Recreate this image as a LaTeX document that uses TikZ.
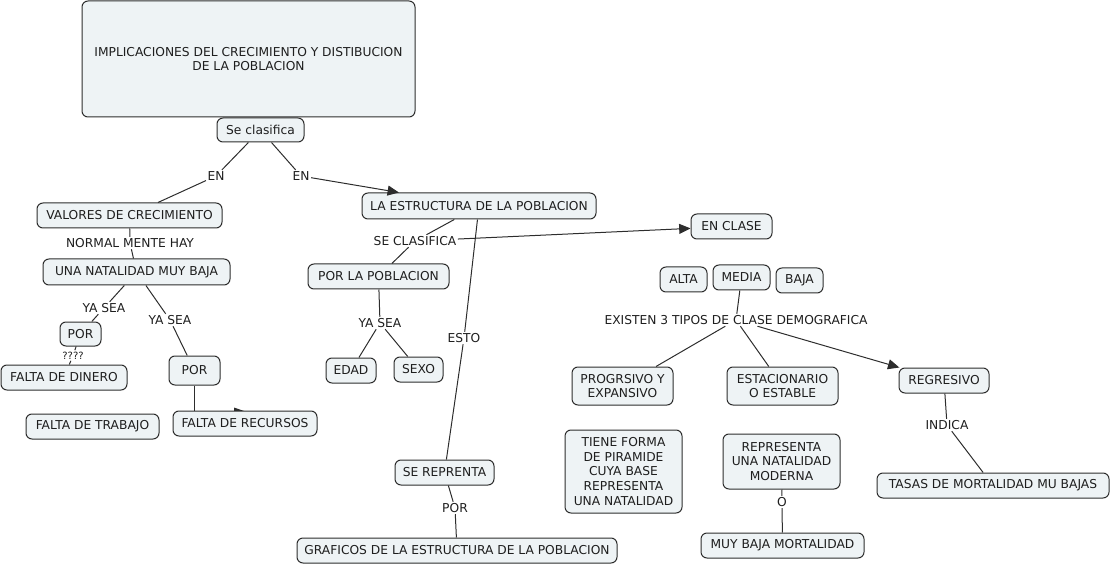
\documentclass[tikz,border=0pt]{standalone}
\usepackage{fontspec}
\setmainfont{DejaVu Sans}
\usetikzlibrary{arrows.meta}
\definecolor{nfill}{RGB}{238,243,245}
\definecolor{nline}{RGB}{45,45,45}
\definecolor{ntext}{RGB}{30,30,30}
\begin{document}
\begin{tikzpicture}[x=0.75pt,y=-0.75pt,
  box/.style={draw=nline, fill=nfill, rounded corners=4.5pt, line width=0.75pt,
    inner sep=0pt, align=center, text=ntext, font=\fontsize{9.2}{10.9}\selectfont},
  sz/.style 2 args={minimum width=#1*0.75pt, minimum height=#2*0.75pt},
  lbl/.style={inner sep=1pt, text=ntext, font=\fontsize{9.2}{10.9}\selectfont},
  con/.style={draw=nline, line width=0.75pt},
  arr/.style={con, -{Triangle[length=8.5pt,width=7.5pt]}}]
\useasboundingbox (0,0) rectangle (1112,566);

% partially hidden arrow head above FALTA DE RECURSOS
\fill[nline] (234,407.5) -- (245.5,411.5) -- (234,415) -- cycle;

% concepts
\node[box, sz={333}{116}] (title) at (248.5,59) {IMPLICACIONES DEL CRECIMIENTO Y DISTIBUCION\\DE LA POBLACION};
\node[box, sz={87}{24}] (secl) at (260.5,130) {Se clasifica};
\node[box, sz={185}{25}] (val) at (129.5,215.5) {VALORES DE CRECIMIENTO};
\node[box, sz={187}{26}] (nat) at (136.5,272) {UNA NATALIDAD MUY BAJA};
\node[box, sz={41}{24}] (por1) at (80.5,334) {POR};
\node[box, sz={126}{25}] (din) at (64,377.5) {FALTA DE DINERO};
\node[box, sz={51}{29}] (por2) at (194.5,370.5) {POR};
\node[box, sz={133}{25}] (trab) at (92.5,426.5) {FALTA DE TRABAJO};
\node[box, sz={144}{25}] (rec) at (245,423.5) {FALTA DE RECURSOS};
\node[box, sz={234}{26}] (estr) at (479,206) {LA ESTRUCTURA DE LA POBLACION};
\node[box, sz={141}{25}] (porpob) at (378.5,276.5) {POR LA POBLACION};
\node[box, sz={50}{25}] (edad) at (351,370.5) {EDAD};
\node[box, sz={49}{25}] (sexo) at (418.5,369.5) {SEXO};
\node[box, sz={99}{25}] (repr) at (444.5,472.5) {SE REPRENTA};
\node[box, sz={320}{25}] (graf) at (457,550.5) {GRAFICOS DE LA ESTRUCTURA DE LA POBLACION};
\node[box, sz={81}{25}] (encl) at (731.5,226.5) {EN CLASE};
\node[box, sz={47}{25}] (alta) at (683.5,279.5) {ALTA};
\node[box, sz={57}{25}] (media) at (741.5,277.5) {MEDIA};
\node[box, sz={47}{25}] (baja) at (799.5,280.5) {BAJA};
\node[box, sz={101}{38}] (prog) at (622.5,386) {PROGRSIVO Y\\EXPANSIVO};
\node[box, sz={111}{38}] (esta) at (782.5,386) {ESTACIONARIO\\O ESTABLE};
\node[box, sz={90}{25}] (regr) at (944,380.5) {REGRESIVO};
\node[box, sz={117}{83}] (tiene) at (623.5,471.5) {TIENE FORMA\\DE PIRAMIDE\\CUYA BASE\\REPRESENTA\\UNA NATALIDAD};
\node[box, sz={117}{55}] (moder) at (781.5,461.5) {REPRESENTA\\UNA NATALIDAD\\MODERNA};
\node[box, sz={163}{25}] (mort) at (782.5,545.5) {MUY BAJA MORTALIDAD};
\node[box, sz={232}{25}] (tasas) at (993,485.5) {TASAS DE MORTALIDAD MU BAJAS};

% linking phrases
\node[lbl] (en1) at (216,176) {EN};
\node[lbl] (en2) at (301,176) {EN};
\node[lbl] (nmh) at (130,243) {NORMAL MENTE HAY};
\node[lbl] (ys1) at (104,308) {YA SEA};
\node[lbl] (ys2) at (170,320) {YA SEA};
\node[lbl, font=\fontsize{7.5}{9}\selectfont] (qq) at (73,355.5) {????};
\node[lbl] (scl) at (415,241) {SE CLASIFICA};
\node[lbl] (ys3) at (380,323) {YA SEA};
\node[lbl] (esto) at (464,338) {ESTO};
\node[lbl] (por3) at (455,508) {POR};
\node[lbl] (exist) at (736,320) {EXISTEN 3 TIPOS DE CLASE DEMOGRAFICA};
\node[lbl] (indica) at (947,425) {INDICA};
\node[lbl] (o) at (782,502) {O};

% connectors
\draw[con] (secl) -- (en1);
\draw[con] (en1) -- (val);
\draw[con] (secl) -- (en2);
\draw[arr] (en2) -- (estr);
\draw[con] (val) -- (nmh);
\draw[con] (nmh) -- (nat);
\draw[con] (nat) -- (ys1);
\draw[con] (ys1) -- (por1);
\draw[con] (nat) -- (ys2);
\draw[con] (ys2) -- (por2);
\draw[con] (por1) -- (qq);
\draw[con] (qq) -- (din);
\draw[con] (por2) -- (por2 |- rec.north);
\draw[con] (estr) -- (scl);
\draw[con] (scl) -- (porpob);
\draw[arr] (scl) -- (encl);
\draw[con] (porpob) -- (ys3);
\draw[con] (ys3) -- (edad);
\draw[con] (ys3) -- (sexo);
\draw[con] (estr) -- (esto);
\draw[con] (esto) -- (repr);
\draw[con] (repr) -- (por3);
\draw[con] (por3) -- (graf);
\draw[con] (media) -- (exist);
\draw[con] (exist) -- (prog);
\draw[con] (exist) -- (esta);
\draw[arr] (exist) -- (regr);
\draw[con] (regr) -- (indica);
\draw[con] (indica) -- (tasas);
\draw[con] (moder) -- (o);
\draw[con] (o) -- (mort);
\end{tikzpicture}
\end{document}
